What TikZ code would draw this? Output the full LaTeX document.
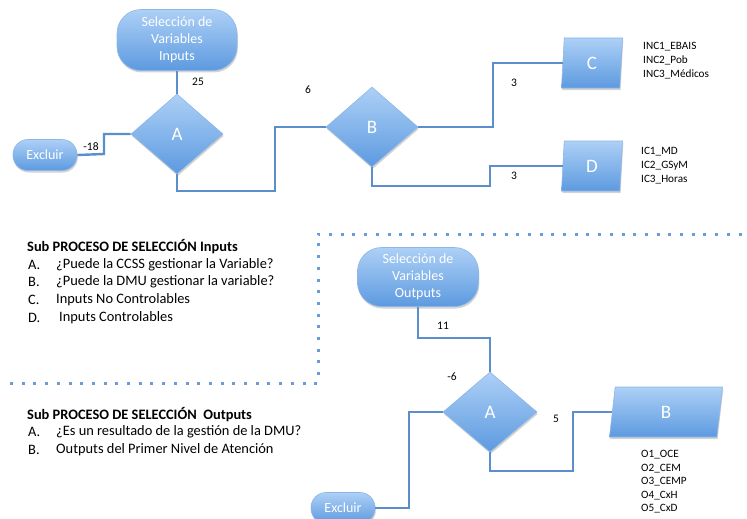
\documentclass[tikz,border=0pt]{standalone}
\usepackage{fontspec}
\setmainfont{Carlito}
\usetikzlibrary{shapes.geometric,shadows}
\definecolor{flowline}{HTML}{5B8FCB}
\definecolor{boxtop}{HTML}{ADD0F6}
\definecolor{boxbot}{HTML}{5D9AE0}
\definecolor{boxedge}{HTML}{8DB6E8}
\definecolor{dotblue}{HTML}{6C9CD8}
\tikzset{
  flowbox/.style={top color=boxtop, bottom color=boxbot, draw=boxedge, line width=0.6pt,
    text=white, align=center, inner sep=0pt,
    drop shadow={opacity=0.35, shadow xshift=0.8pt, shadow yshift=-2pt}},
  terminal/.style={flowbox, rectangle, rounded corners=#1},
  decision/.style={flowbox, diamond, minimum width=92pt, minimum height=80pt,
    font=\fontsize{19}{20}\selectfont},
  dataio/.style={flowbox, trapezium, trapezium stretches body,
    trapezium left angle=#1, trapezium right angle=180-#1,
    minimum height=50pt, font=\fontsize{19}{20}\selectfont},
  conn/.style={draw=flowline, line width=2.4pt},
  count/.style={font=\fontsize{11.5}{13}\selectfont, inner sep=0pt},
  varlist/.style={font=\fontsize{11.2}{13.8}\selectfont, align=left, anchor=north west, inner sep=0pt},
  legend/.style={font=\fontsize{14.4}{17.6}\selectfont, anchor=west, inner sep=0pt},
  border/.style={draw=dotblue, line width=3pt, dash pattern=on 3pt off 8.7pt}
}
\begin{document}
\begin{tikzpicture}[x=1pt, y=-1pt]
\useasboundingbox (0,0) rectangle (747,519);

% dotted separator between the two sub-processes
\draw[border] (10,383) -- (318,383) -- (318,234) -- (747,234);

% ---------- Inputs ----------
\node[terminal=24pt, minimum width=120pt, minimum height=61pt,
  font=\fontsize{14}{17}\selectfont] (selIn) at (177,40) {Selección de\\Variables\\Inputs};
\node[decision] (A1) at (177,134) {A};
\node[terminal=15pt, minimum width=64pt, minimum height=31pt,
  font=\fontsize{14}{16}\selectfont] (exc1) at (45,155) {Excluir};
\node[decision] (B1) at (372,127) {B};
\node[dataio=77.5, minimum width=61pt] (C) at (592,63) {C};
\node[dataio=77.5, minimum width=61pt] (D) at (592,166) {D};

\coordinate (jA) at (104,154);
\coordinate (jB) at (275,191);
\coordinate (jC) at (493,127);
\coordinate (jD) at (490,186);

\draw[conn] (selIn.south) -- (A1.north);
\draw[conn] (exc1.east) -- (jA) |- (A1.west);
\draw[conn] (A1.south) |- (jB) |- (B1.west);
\draw[conn] (B1.east) -- (jC) |- (C.west);
\draw[conn] (B1.south) |- (jD) |- (D.west);

\node[count] (n25) at (198,82) {25};
\node[count] (n18) at (91,147) {-18};
\node[count] (n6) at (308,90) {6};
\node[count] (n3a) at (514,83) {3};
\node[count] (n3b) at (514,176) {3};

\node[varlist] (incList) at (643,42) {INC1\_EBAIS\\INC2\_Pob\\INC3\_Médicos};
\node[varlist] (icList) at (641,147) {IC1\_MD\\IC2\_GSyM\\IC3\_Horas};

% legend of the inputs sub-process
\node[legend, font=\fontsize{14.4}{17.6}\selectfont\bfseries] (hIn) at (27,247) {Sub PROCESO DE SELECCIÓN Inputs};
\node[legend] (iA) at (28,265) {A.};
\node[legend] (tA) at (56,265) {¿Puede la CCSS gestionar la Variable?};
\node[legend] (iB) at (28,282) {B.};
\node[legend] (tB) at (56,282) {¿Puede la DMU gestionar la variable?};
\node[legend] (iC) at (28,300) {C.};
\node[legend] (tC) at (56,300) {Inputs No Controlables};
\node[legend] (iD) at (28,318) {D.};
\node[legend] (tD) at (59,318) {Inputs Controlables};

% ---------- Outputs ----------
\node[terminal=24pt, minimum width=121pt, minimum height=59pt,
  font=\fontsize{14}{17}\selectfont] (selOut) at (418,277) {Selección de\\Variables\\Outputs};
\node[decision, minimum width=94pt] (A2) at (490,412) {A};
\node[dataio=65, minimum width=113pt] (B2) at (666,412) {B};
\node[terminal=15pt, minimum width=64pt, minimum height=31pt,
  font=\fontsize{14}{16}\selectfont] (exc2) at (343,508) {Excluir};

\coordinate (jO) at (418,338);
\coordinate (jP) at (573,471);
\coordinate (jE) at (409,412);

\draw[conn] (selOut.south) -- (jO) -| (A2.north);
\draw[conn] (A2.south) |- (jP) |- (B2.west);
\draw[conn] (A2.west) -- (jE) |- (exc2.east);

\node[count] (n11) at (443,326) {11};
\node[count] (n6b) at (452,377) {-6};
\node[count] (n5) at (556,419) {5};

\node[varlist, font=\fontsize{11.2}{13.6}\selectfont] (oList) at (641,450) {O1\_OCE\\O2\_CEM\\O3\_CEMP\\O4\_CxH\\O5\_CxD};

% legend of the outputs sub-process
\node[legend, font=\fontsize{14.4}{17.6}\selectfont\bfseries] (hOut) at (27,415) {Sub PROCESO DE SELECCIÓN\ \ Outputs};
\node[legend] (oA) at (28,432) {A.};
\node[legend] (otA) at (56,432) {¿Es un resultado de la gestión de la DMU?};
\node[legend] (oB) at (28,450) {B.};
\node[legend] (otB) at (56,450) {Outputs del Primer Nivel de Atención};
\end{tikzpicture}
\end{document}
